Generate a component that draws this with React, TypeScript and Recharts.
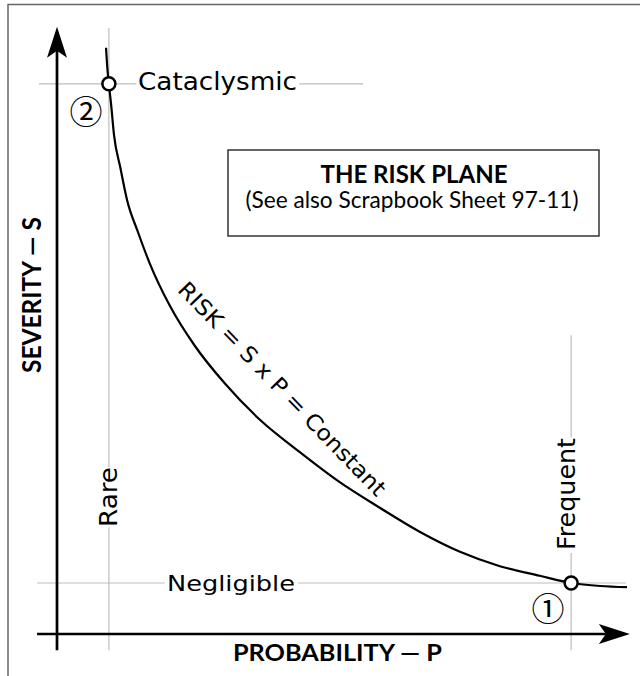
import React from "react";
import { ComposedChart, Line, XAxis, YAxis, ReferenceLine, ReferenceDot } from "recharts";

// risk curve S x P = const (P and S on a 0-10 scale)
const curveP = [0.86, 0.88, 0.91, 0.95, 1.0, 1.11, 1.23, 1.42, 1.63, 1.98, 2.42, 2.95, 3.56, 4.26, 4.96, 5.67, 6.37, 7.07, 7.77, 8.47, 9.02, 9.53, 10.0];
const curveS = [9.77, 9.47, 9.17, 8.82, 8.32, 7.78, 7.23, 6.7, 6.17, 5.47, 4.8, 4.17, 3.57, 3.03, 2.53, 2.1, 1.7, 1.37, 1.13, 0.97, 0.85, 0.8, 0.78];

// the two marked points: 2 = rare/cataclysmic, 1 = frequent/negligible
const markerP = [0.91, 9.02];
const markerS = [9.17, 0.85];

// light guide lines, broken where the labels sit
const guideLines: [number, number, number, number][] = [
  [-0.32, 9.17, 1.39, 9.17],
  [4.25, 9.17, 5.37, 9.17],
  [-0.35, 0.85, 1.89, 0.85],
  [4.23, 0.85, 9.98, 0.85],
  [0.91, -0.27, 0.91, 1.78],
  [0.91, 2.78, 0.91, 10.1],
  [9.02, -0.27, 9.02, 1.35],
  [9.02, 3.28, 9.02, 4.98],
];

const axisLines: [number, number, number, number][] = [
  [0, -0.27, 0, 10.12],
  [-0.35, 0, 10.05, 0],
];

const curveData = curveP.map((p, i) => ({ p, s: curveS[i] }));

const ArrowShape = (props: any) => {
  const { x1, y1, x2, y2 } = props;
  const len = Math.hypot(x2 - x1, y2 - y1);
  const dx = (x2 - x1) / len;
  const dy = (y2 - y1) / len;
  const nx = -dy;
  const ny = dx;
  const L = 31;
  const W = 10;
  const bx = x2 - dx * L;
  const by = y2 - dy * L;
  const notchX = x2 - dx * (L - 7);
  const notchY = y2 - dy * (L - 7);
  const pts = [
    [x2, y2],
    [bx + nx * W, by + ny * W],
    [notchX, notchY],
    [bx - nx * W, by - ny * W],
  ]
    .map((q) => q.join(","))
    .join(" ");
  return (
    <g>
      <line x1={x1} y1={y1} x2={notchX} y2={notchY} stroke="#000" strokeWidth={2.7} />
      <polygon points={pts} fill="#000" />
    </g>
  );
};

const gothic = "'DejaVu Sans', sans-serif";
const humanist = "Lato, 'Open Sans', sans-serif";
const circled = "'Noto Sans CJK JP', 'DejaVu Sans', sans-serif";

export default function App() {
  return (
    <div style={{ position: "absolute", left: 0, top: 0, width: 640, height: 676, background: "#fff" }}>
      <ComposedChart
        width={640}
        height={676}
        data={curveData}
        margin={{ top: 34, right: 13, bottom: 42, left: 57 }}
      >
        <XAxis type="number" dataKey="p" domain={[0, 10]} hide allowDataOverflow />
        <YAxis type="number" domain={[0, 10]} hide allowDataOverflow />
        {guideLines.map((g, i) => (
          <ReferenceLine
            key={`g-${i}`}
            segment={[
              { x: g[0], y: g[1] },
              { x: g[2], y: g[3] },
            ]}
            stroke="#bdbdbd"
            strokeWidth={1.2}
            ifOverflow="visible"
          />
        ))}
        {axisLines.map((a, i) => (
          <ReferenceLine
            key={`a-${i}`}
            segment={[
              { x: a[0], y: a[1] },
              { x: a[2], y: a[3] },
            ]}
            ifOverflow="visible"
            shape={ArrowShape}
          />
        ))}
        <Line
          type="monotone"
          dataKey="s"
          stroke="#000"
          strokeWidth={2.2}
          dot={false}
          activeDot={false}
          isAnimationActive={false}
        />
        {markerP.map((p, i) => (
          <ReferenceDot
            key={`m-${i}`}
            x={p}
            y={markerS[i]}
            r={6.5}
            fill="#fff"
            stroke="#000"
            strokeWidth={2.5}
            ifOverflow="visible"
          />
        ))}
      </ComposedChart>
      <svg
        width={640}
        height={676}
        style={{ position: "absolute", left: 0, top: 0, pointerEvents: "none" }}
      >
        <path d="M8 676 L8 4.5 L640 4.5" fill="none" stroke="#666" strokeWidth={1.5} />
        <rect x={228} y={150} width={371} height={86} fill="#fff" stroke="#333" strokeWidth={1.5} />
        <text x={414} y={183} textAnchor="middle" fontFamily={humanist} fontWeight={700} fontSize={25} textLength={187} lengthAdjust="spacingAndGlyphs">
          THE RISK PLANE
        </text>
        <text x={412} y={208} textAnchor="middle" fontFamily={humanist} fontSize={23.5} textLength={333} lengthAdjust="spacingAndGlyphs">
          (See also Scrapbook Sheet 97-11)
        </text>
        <text x={138} y={90} fontFamily={gothic} fontSize={24} textLength={159} lengthAdjust="spacingAndGlyphs">
          Cataclysmic
        </text>
        <text x={167} y={591} fontFamily={gothic} fontSize={22} textLength={128} lengthAdjust="spacingAndGlyphs">
          Negligible
        </text>
        <text x={117} y={527} transform="rotate(-90 117 527)" fontFamily={gothic} fontSize={24} textLength={60} lengthAdjust="spacingAndGlyphs">
          Rare
        </text>
        <text x={575} y={550} transform="rotate(-90 575 550)" fontFamily={gothic} fontSize={24} textLength={112} lengthAdjust="spacingAndGlyphs">
          Frequent
        </text>
        <text x={86} y={110} textAnchor="middle" dominantBaseline="central" fontFamily={circled} fontSize={33}>
          ②
        </text>
        <text x={548} y={607} textAnchor="middle" dominantBaseline="central" fontFamily={circled} fontSize={33}>
          ①
        </text>
        <text x={282} y={389} transform="rotate(46 282 389)" textAnchor="middle" dominantBaseline="central" fontFamily={gothic} fontSize={22} textLength={288} lengthAdjust="spacingAndGlyphs">
          RISK = S x P = Constant
        </text>
        <text x={233} y={661} fontFamily={humanist} fontWeight={700} fontSize={22} textLength={209} lengthAdjust="spacingAndGlyphs">
          PROBABILITY — P
        </text>
        <text x={41} y={295} transform="rotate(-90 41 295)" textAnchor="middle" fontFamily={humanist} fontWeight={700} fontSize={26} textLength={156} lengthAdjust="spacingAndGlyphs">
          SEVERITY — S
        </text>
      </svg>
    </div>
  );
}
